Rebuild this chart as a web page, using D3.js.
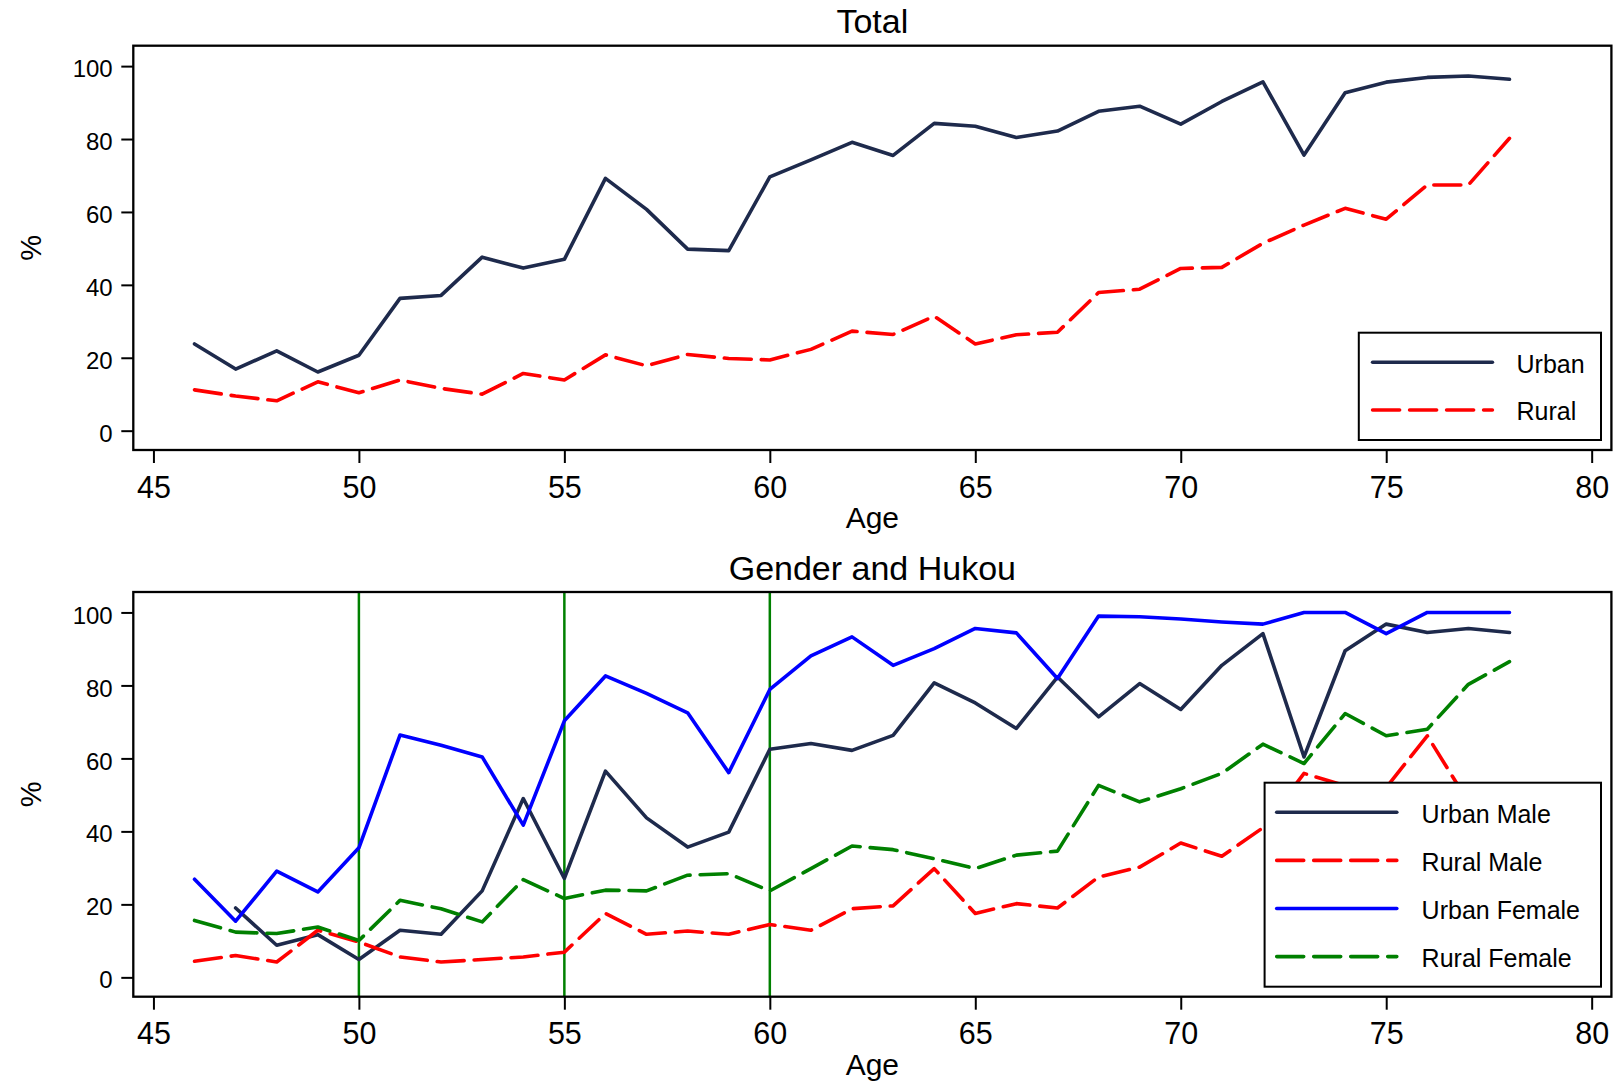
<!DOCTYPE html>
<html>
<head>
<meta charset="utf-8">
<script src="https://cdn.jsdelivr.net/npm/d3@7"></script>
<style>
  html, body { margin: 0; padding: 0; background: #fff; }
  svg { display: block; font-family: "Liberation Sans", Arial, Helvetica, sans-serif; }
</style>
</head>
<body>
<svg id="chart" width="1621" height="1082"></svg>
<script>
// Share of respondents (%) by age, split by hukou and by gender × hukou
const ages = [46,47,48,49,50,51,52,53,54,55,56,57,58,59,60,61,62,63,64,65,66,67,68,69,70,71,72,73,74,75,76,77,78];

const totalUrban = [23.8,16.9,21.9,16.1,20.7,36.3,37.1,47.6,44.6,47.0,69.2,60.7,49.8,49.4,69.6,74.3,79.1,75.5,84.3,83.5,80.4,82.2,87.6,89.0,84.1,90.3,95.7,75.6,92.7,95.6,96.9,97.3,96.4];
const totalRural = [11.2,9.5,8.2,13.4,10.4,13.9,11.6,10.0,15.7,13.9,20.8,17.8,20.9,19.8,19.4,22.3,27.3,26.4,31.4,23.8,26.3,27.0,37.9,38.8,44.5,44.8,51.4,56.4,61.0,58.0,67.4,67.4,80.2];

const urbanMale   = [null,19.0,8.8,11.7,4.9,12.9,11.8,23.7,49.0,27.1,56.5,43.7,35.7,39.8,62.5,64.1,62.2,66.3,80.7,75.2,68.2,82.3,71.4,80.5,73.4,85.5,94.2,60.4,89.5,96.8,94.5,95.6,94.5];
const ruralMale   = [4.4,6.0,4.2,12.9,9.7,5.6,4.2,4.9,5.6,6.9,17.5,11.8,12.7,11.8,14.5,12.9,18.8,19.6,29.8,17.5,20.2,19.0,27.5,30.2,36.8,33.2,41.0,55.9,52.5,52.0,66.2,48.0,50.0];
const urbanFemale = [26.9,15.4,29.1,23.4,35.5,66.4,63.6,60.4,41.7,70.3,82.6,77.8,72.5,56.1,78.9,88.1,93.3,85.5,90.1,95.6,94.4,81.9,99.0,98.8,98.2,97.4,96.8,100,100,94.2,100,100,100];
const ruralFemale = [15.6,12.4,12.0,13.8,10.1,21.1,18.8,15.2,26.8,21.6,23.9,23.7,28.0,28.4,23.7,29.8,36.0,35.0,32.5,29.8,33.5,34.6,52.6,48.1,51.7,55.9,63.9,58.6,72.3,66.2,68.0,80.3,86.5];

const xTicks = [45,50,55,60,65,70,75,80];
const yTicks = [0,20,40,60,80,100];
const pensionAges = [50,55,60];

const NAVY = "#1e2a4c", RED = "#ff0000", BLUE = "#0000ff", GREEN = "#008000";
const DASH = "27,10";

const svg = d3.select("#chart");
svg.append("rect").attr("width", 1621).attr("height", 1082).attr("fill", "#fff");

const left = 133.3, right = 1611.4;
const x = d3.scaleLinear().domain([44.51, 80.48]).range([left, right]);

function panel(cfg) {
  const { top, bottom, title, series, vlines, legend } = cfg;
  const y = d3.scaleLinear().domain([-5.3, 105.6]).range([bottom, top]);
  const g = svg.append("g");

  // title
  g.append("text").attr("x", (left + right) / 2).attr("y", top - 12.5)
    .attr("text-anchor", "middle").attr("font-size", 34).attr("fill", "#000").text(title);

  // reference lines
  (vlines || []).forEach(v => {
    g.append("line").attr("x1", x(v)).attr("x2", x(v)).attr("y1", top).attr("y2", bottom)
      .attr("stroke", GREEN).attr("stroke-width", 2.5);
  });

  // series
  const line = d3.line().defined(d => d.v != null).x(d => x(d.a)).y(d => y(d.v));
  series.forEach(s => {
    const pts = ages.map((a, i) => ({ a, v: s.values[i] }));
    g.append("path").datum(pts).attr("d", line).attr("fill", "none")
      .attr("stroke", s.color).attr("stroke-width", 3.6)
      .attr("stroke-linejoin", "round").attr("stroke-linecap", "round")
      .attr("stroke-dasharray", s.dash ? DASH : null);
  });

  // axes
  const xa = g.append("g").attr("transform", `translate(0,${bottom})`)
    .call(d3.axisBottom(x).tickValues(xTicks).tickSize(13).tickFormat(d3.format("d")));
  xa.select(".domain").remove();
  xa.selectAll(".tick line").attr("stroke", "#000").attr("stroke-width", 2);
  xa.selectAll(".tick text").attr("y", 47.5).attr("dy", null)
    .attr("font-size", 30.5).attr("fill", "#000").attr("font-family", null);

  const ya = g.append("g").attr("transform", `translate(${left},0)`)
    .call(d3.axisLeft(y).tickValues(yTicks).tickSize(12).tickFormat(d3.format("d")));
  ya.select(".domain").remove();
  ya.selectAll(".tick line").attr("stroke", "#000").attr("stroke-width", 2);
  ya.selectAll(".tick text").attr("x", -20.6).attr("dy", 10.6)
    .attr("font-size", 24).attr("fill", "#000").attr("font-family", null);

  // axis titles
  g.append("text").attr("x", (left + right) / 2).attr("y", bottom + 78)
    .attr("text-anchor", "middle").attr("font-size", 30).attr("fill", "#000").text("Age");
  g.append("text").attr("transform", `translate(40.5,${(top + bottom) / 2}) rotate(-90)`)
    .attr("text-anchor", "middle").attr("font-size", 29).attr("fill", "#000").text("%");

  // plot frame
  g.append("rect").attr("x", left).attr("y", top).attr("width", right - left).attr("height", bottom - top)
    .attr("fill", "none").attr("stroke", "#000").attr("stroke-width", 2.3);

  // legend
  const L = legend;
  const lg = g.append("g");
  lg.append("rect").attr("x", L.x0).attr("y", L.y0).attr("width", L.x1 - L.x0).attr("height", L.y1 - L.y0)
    .attr("fill", "#fff").attr("stroke", "#000").attr("stroke-width", 2);
  series.forEach((s, i) => {
    const ry = L.firstRow + i * L.rowGap;
    lg.append("line").attr("x1", L.lineX0).attr("x2", L.lineX1).attr("y1", ry).attr("y2", ry)
      .attr("stroke", s.color).attr("stroke-width", 3.6).attr("stroke-linecap", "round")
      .attr("stroke-dasharray", s.dash ? DASH : null);
    lg.append("text").attr("x", L.textX).attr("y", ry + 10.4)
      .attr("font-size", 25).attr("fill", "#000").text(s.name);
  });
}

panel({
  top: 45.7, bottom: 450, title: "Total",
  series: [
    { name: "Urban", values: totalUrban, color: NAVY, dash: false },
    { name: "Rural", values: totalRural, color: RED, dash: true }
  ],
  legend: { x0: 1358.8, x1: 1601, y0: 332.7, y1: 440, lineX0: 1372.6, lineX1: 1492.4,
            textX: 1516.5, firstRow: 362.3, rowGap: 47.7 }
});

panel({
  top: 592, bottom: 996.7, title: "Gender and Hukou", vlines: pensionAges,
  series: [
    { name: "Urban Male", values: urbanMale, color: NAVY, dash: false },
    { name: "Rural Male", values: ruralMale, color: RED, dash: true },
    { name: "Urban Female", values: urbanFemale, color: BLUE, dash: false },
    { name: "Rural Female", values: ruralFemale, color: GREEN, dash: true }
  ],
  legend: { x0: 1264.6, x1: 1601, y0: 782.7, y1: 986.7, lineX0: 1276.7, lineX1: 1396.8,
            textX: 1421.6, firstRow: 812.3, rowGap: 48.1 }
});
</script>
</body>
</html>
